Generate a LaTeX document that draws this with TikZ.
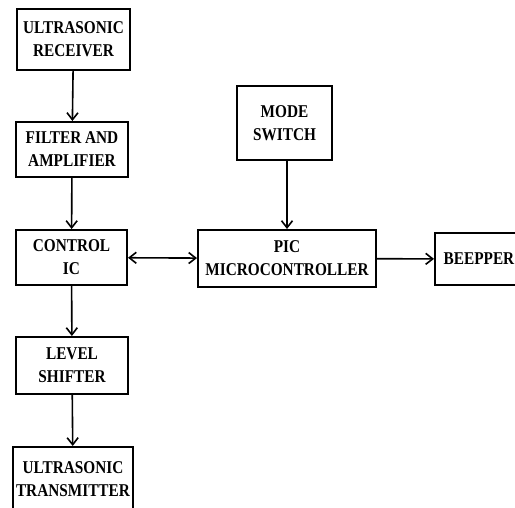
\documentclass[tikz,border=0pt]{standalone}
\usepackage{fontspec}
\setmainfont[FakeStretch=0.85]{Liberation Serif}
\usepackage{tikz}
\usetikzlibrary{shapes,arrows.meta}

\begin{document}
\begin{tikzpicture}[x=1pt,y=-1pt,
	blk/.style={rectangle,draw,line width=2pt,align=center,inner sep=1pt,
		font=\fontsize{18}{23}\selectfont\bfseries},
	>={Straight Barb[length=7pt,width=11pt]}]

	\useasboundingbox (0,0) rectangle (515,508);

	\node[blk,minimum width=113pt,minimum height=61pt] (rx) at (73.5,39.5) {ULTRASONIC\\RECEIVER};
	\node[blk,minimum width=112pt,minimum height=55pt] (filt) at (72,149.5) {FILTER AND\\AMPLIFIER};
	\node[blk,minimum width=111pt,minimum height=55pt] (ctrl) at (71.5,257.5) {CONTROL\\IC};
	\node[blk,minimum width=112pt,minimum height=57pt] (lvl) at (72,365.5) {LEVEL\\SHIFTER};
	\node[blk,minimum width=120pt,minimum height=64pt] (tx) at (73,479) {ULTRASONIC\\TRANSMITTER};
	\node[blk,minimum width=95pt,minimum height=74pt] (mode) at (284.5,123) {MODE\\SWITCH};
	\node[blk,minimum width=178pt,minimum height=57pt] (pic) at (287,258.5) {PIC\\MICROCONTROLLER};
	\node[blk,minimum width=88pt,minimum height=52pt] (beep) at (479,259) {BEEPPER};

	\path[->,line width=1.6pt] (rx) edge (filt);
	\path[->,line width=1.6pt] (filt) edge (ctrl);
	\path[->,line width=1.6pt] (ctrl) edge (lvl);
	\path[->,line width=1.6pt] (lvl) edge (tx);

	\path[<->,line width=1.6pt] (ctrl) edge (pic);
	\path[->,line width=1.6pt] (pic.north |- mode.south) edge (pic.north);
	\path[->,line width=1.6pt] (pic) edge (beep);

\end{tikzpicture}
\end{document}
